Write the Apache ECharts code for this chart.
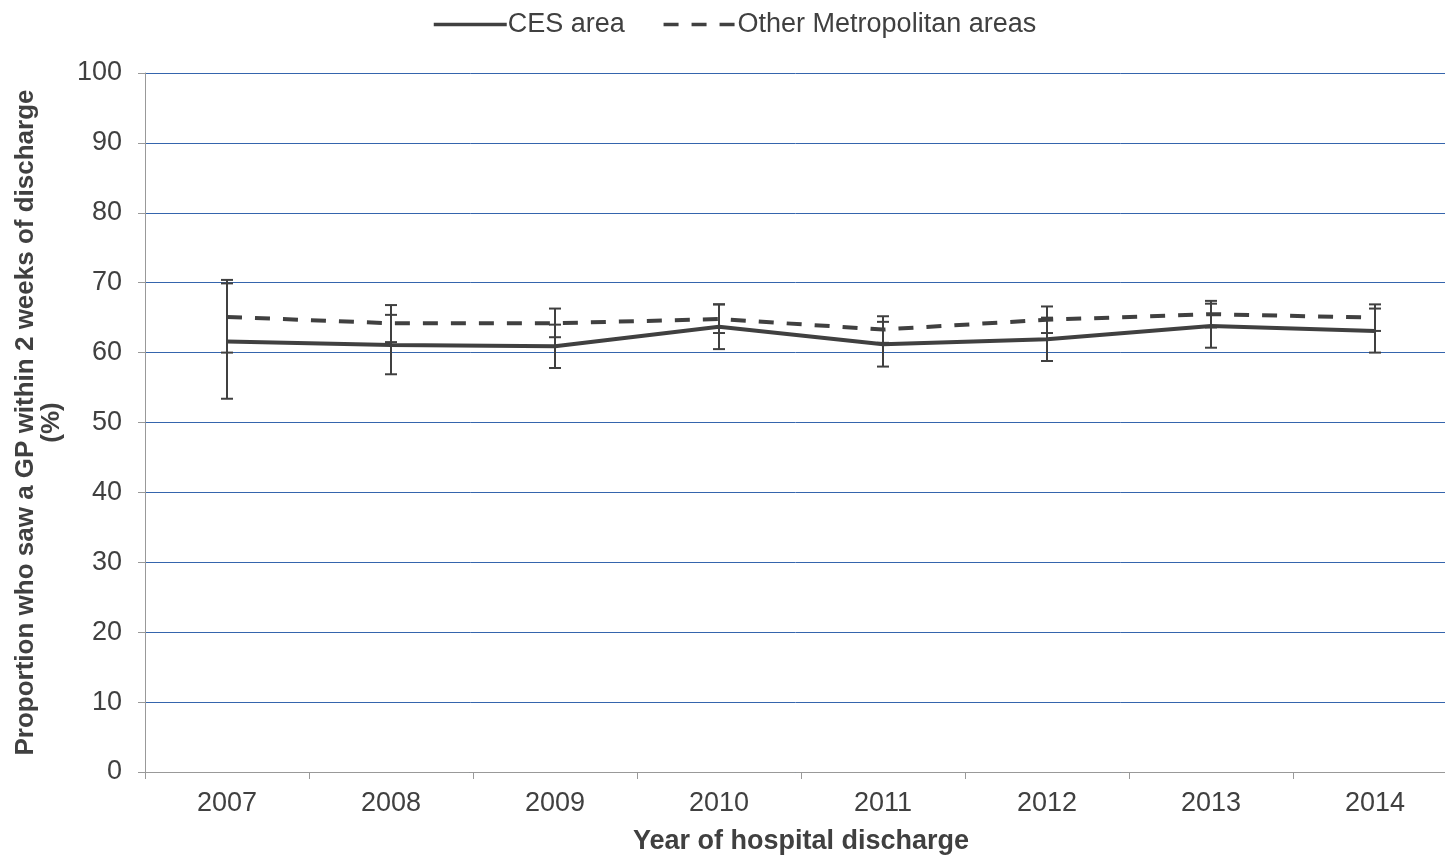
<!DOCTYPE html>
<html>
<head>
<meta charset="utf-8">
<script src="https://cdn.jsdelivr.net/npm/echarts@6/dist/echarts.min.js"></script>
<style>
html,body{margin:0;padding:0;background:#fff;}
#chart{width:1445px;height:856px;}
</style>
</head>
<body>
<div id="chart"></div>
<script>
const years = ['2007','2008','2009','2010','2011','2012','2013','2014'];
const ces = [61.6, 61.1, 60.9, 63.7, 61.2, 61.9, 63.8, 63.1];
const cesLow = [53.4, 56.9, 57.8, 60.5, 58.0, 58.8, 60.7, 60.0];
const cesHigh = [69.9, 65.4, 64.0, 66.9, 64.4, 65.0, 67.0, 66.3];
const other = [65.1, 64.2, 64.2, 64.8, 63.3, 64.7, 65.5, 65.0];
const otherLow = [60.0, 61.5, 62.2, 62.8, 61.4, 62.8, 63.6, 63.1];
const otherHigh = [70.4, 66.8, 66.3, 66.9, 65.2, 66.6, 67.4, 66.9];
const yTicks = [0,10,20,30,40,50,60,70,80,90,100];

const font = 'Liberation Sans, Arial, sans-serif';
const dark = '#404040';

function errData(low, high){ return years.map((y,i)=>[i, low[i], high[i]]); }
function renderErr(params, api){
  const x = api.value(0);
  const lo = api.coord([x, api.value(1)]);
  const hi = api.coord([x, api.value(2)]);
  const hw = 6;
  const style = {stroke: dark, lineWidth: 2};
  return {type:'group', children:[
    {type:'line', shape:{x1:lo[0],y1:lo[1],x2:hi[0],y2:hi[1]}, style},
    {type:'line', shape:{x1:lo[0]-hw,y1:lo[1],x2:lo[0]+hw,y2:lo[1]}, style},
    {type:'line', shape:{x1:hi[0]-hw,y1:hi[1],x2:hi[0]+hw,y2:hi[1]}, style}
  ]};
}

const chart = echarts.init(document.getElementById('chart'));
chart.setOption({
  animation:false,
  backgroundColor:'#fff',
  textStyle:{fontFamily:font},
  legend:{
    top:6, left:427, itemWidth:73, itemHeight:14, itemGap:37,
    textStyle:{fontSize:27, color:dark, fontFamily:font, padding:[0,0,0,-4]},
    itemStyle:{color:'rgba(0,0,0,0)', borderWidth:0},
    lineStyle:{width:3.5},
    data:['CES area','Other Metropolitan areas']
  },
  grid:{left:145, right:-12, top:73, bottom:84, containLabel:false, outerBoundsMode:'none'},
  xAxis:{
    type:'category', data:years, boundaryGap:true,
    axisLine:{lineStyle:{color:'#999', width:1}},
    axisTick:{show:true, length:7, interval:0, lineStyle:{color:'#999'}},
    axisLabel:{fontSize:27, color:dark, margin:18, fontFamily:font, interval:0},
    name:'Year of hospital discharge', nameLocation:'middle', nameGap:56,
    nameTextStyle:{fontSize:27, fontWeight:'bold', color:dark, fontFamily:font}
  },
  yAxis:{
    type:'value', min:0, max:100, interval:10,
    axisLine:{show:true, lineStyle:{color:'#999', width:1}},
    axisTick:{show:true, length:7, lineStyle:{color:'#999'}},
    axisLabel:{fontSize:27, color:dark, margin:23, fontFamily:font,
      formatter:(v)=> yTicks.includes(v) ? String(v) : ''},
    splitLine:{show:true, lineStyle:{color:'#3565ad', width:1}},
    name:'Proportion who saw a GP within 2 weeks of discharge\n(%)',
    nameLocation:'middle', nameGap:80, nameRotate:90,
    nameTextStyle:{fontSize:26, fontWeight:'bold', color:dark, lineHeight:26, align:'center', fontFamily:font}
  },
  series:[
    {type:'custom', name:'errOther', renderItem:renderErr, data:errData(otherLow, otherHigh), z:3, silent:true},
    {type:'custom', name:'errCes', renderItem:renderErr, data:errData(cesLow, cesHigh), z:3, silent:true},
    {type:'line', name:'CES area', data:ces, symbol:'none', showSymbol:false, z:4,
      lineStyle:{color:dark, width:4}, itemStyle:{color:dark}},
    {type:'line', name:'Other Metropolitan areas', data:other, symbol:'none', showSymbol:false, z:4,
      lineStyle:{color:dark, width:4, type:[15,13]}, itemStyle:{color:dark}}
  ]
});
</script>
</body>
</html>
